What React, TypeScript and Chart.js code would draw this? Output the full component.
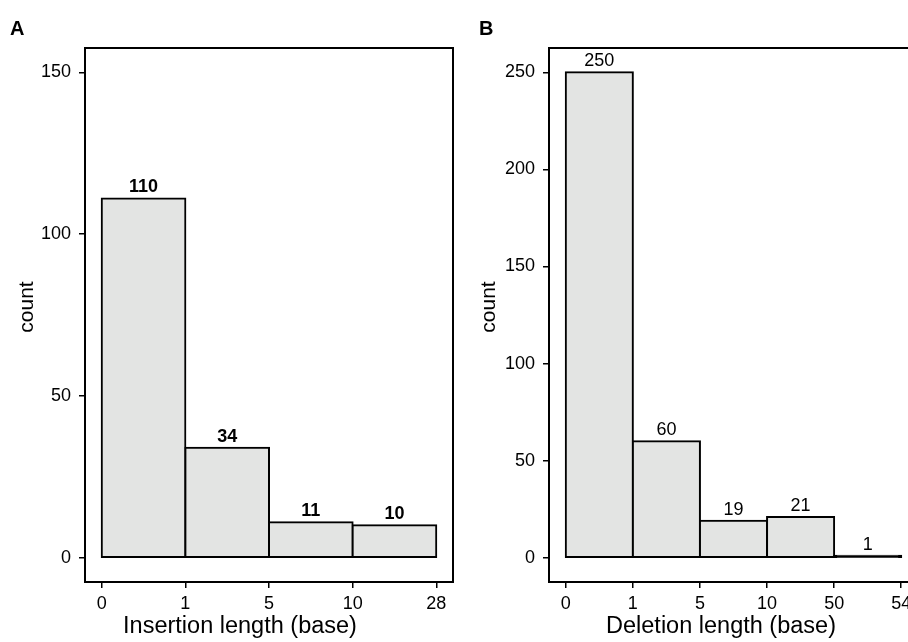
import { useEffect, useRef } from "react";
import { Chart, registerables } from "chart.js";

Chart.register(...registerables);

// ---------- data ----------
const insertionBins = ["0", "1", "5", "10", "28"];
const insertionCounts = [111, 34, 11, 10];
const insertionLabels = ["110", "34", "11", "10"];
const insertionYTicks = [0, 50, 100, 150];

const deletionBins = ["0", "1", "5", "10", "50", "54"];
const deletionCounts = [250, 60, 19, 21, 1];
const deletionLabels = ["250", "60", "19", "21", "1"];
const deletionYTicks = [0, 50, 100, 150, 200, 250];

const FONT = '"Liberation Sans", Arial, Helvetica, sans-serif';

type PanelProps = {
  bins: string[];
  counts: number[];
  labels: string[];
  yTicks: number[];
  yMax: number;
  xTitle: string;
  letter: string;
  labelBold: boolean;
  left: number;
  width: number;
  xTitleCenter: number; // relative to canvas
  yTitleCenterX: number;
  letterX: number;
};

function Panel(p: PanelProps) {
  const ref = useRef<HTMLCanvasElement | null>(null);
  useEffect(() => {
    if (!ref.current) return;
    const n = p.counts.length;
    const xPad = n * 0.05;
    const yPad = p.yMax * 0.05;

    const deco = {
      id: "deco",
      afterDraw(chart: any) {
        const { ctx, chartArea } = chart;
        const xs = chart.scales.x;
        const ys = chart.scales.y;
        ctx.save();
        // panel border
        ctx.strokeStyle = "#000";
        ctx.lineWidth = 2;
        ctx.strokeRect(
          chartArea.left,
          chartArea.top,
          chartArea.right - chartArea.left,
          chartArea.bottom - chartArea.top
        );
        // value labels
        ctx.fillStyle = "#000";
        ctx.textAlign = "center";
        ctx.textBaseline = "alphabetic";
        ctx.font = `${p.labelBold ? "bold " : ""}18px ${FONT}`;
        p.counts.forEach((c, i) => {
          const x = xs.getPixelForValue(i + 0.5);
          const y = ys.getPixelForValue(c);
          ctx.fillText(p.labels[i], x, y - 6);
        });
        // x title
        ctx.font = `23.5px ${FONT}`;
        ctx.textBaseline = "middle";
        ctx.fillText(p.xTitle, p.xTitleCenter, 627);
        // y title
        ctx.font = `21px ${FONT}`;
        ctx.save();
        ctx.translate(p.yTitleCenterX, (chartArea.top + chartArea.bottom) / 2 - 8);
        ctx.rotate(-Math.PI / 2);
        ctx.fillText("count", 0, 0);
        ctx.restore();
        // panel letter
        ctx.font = `bold 20px ${FONT}`;
        ctx.textAlign = "left";
        ctx.textBaseline = "alphabetic";
        ctx.fillText(p.letter, p.letterX, 35);
        ctx.restore();
      },
    };

    const tickFont = { family: FONT, size: 18 };
    const chart = new Chart(ref.current, {
      type: "bar",
      data: {
        datasets: [
          {
            data: p.counts.map((c, i) => ({ x: i + 0.5, y: c })),
            // very short bars are drawn as a solid black stroke, as the outline covers them
            backgroundColor: (ctx: any) => {
              const v = ctx.raw && typeof ctx.raw.y === "number" ? ctx.raw.y : 0;
              const ys = ctx.chart && ctx.chart.scales ? ctx.chart.scales.y : null;
              if (ys && typeof ys.getPixelForValue === "function") {
                const h = Math.abs(ys.getPixelForValue(0) - ys.getPixelForValue(v));
                if (h < 4) return "#000";
              } else if (v / p.yMax < 0.01) {
                return "#000";
              }
              return "#E3E4E3";
            },
            borderColor: "#000",
            borderWidth: 2,
            borderSkipped: false,
            inflateAmount: 1,
            barPercentage: 1,
            categoryPercentage: 1,
          } as any,
        ],
      },
      options: {
        animation: false,
        responsive: false,
        maintainAspectRatio: false,
        devicePixelRatio: 1,
        layout: { padding: { top: 48, right: 7, left: 0, bottom: 0 } },
        plugins: { legend: { display: false }, tooltip: { enabled: false } },
        scales: {
          x: {
            type: "linear",
            offset: false,
            min: -xPad,
            max: n + xPad,
            afterBuildTicks: (s: any) => {
              s.ticks = p.bins.map((_, i) => ({ value: i }));
            },
            afterFit: (s: any) => {
              s.height = 60;
            },
            ticks: {
              callback: (v: any) => p.bins[Math.round(Number(v))],
              font: tickFont,
              color: "#000",
              padding: 5,
              autoSkip: false,
              maxRotation: 0,
            },
            grid: {
              display: true,
              offset: false,
              drawOnChartArea: false,
              drawTicks: true,
              tickLength: 6,
              color: "#000",
              lineWidth: 1.5,
            },
            border: { display: false },
          },
          y: {
            type: "linear",
            min: -yPad,
            max: p.yMax + yPad,
            afterBuildTicks: (s: any) => {
              s.ticks = p.yTicks.map((v) => ({ value: v }));
            },
            afterFit: (s: any) => {
              s.width = 85;
            },
            ticks: {
              callback: (v: any) => String(v),
              font: tickFont,
              color: "#000",
              padding: 8,
              autoSkip: false,
            },
            grid: {
              display: true,
              drawOnChartArea: false,
              drawTicks: true,
              tickLength: 6,
              color: "#000",
              lineWidth: 1.5,
            },
            border: { display: false },
          },
        },
      } as any,
      plugins: [deco],
    });
    return () => chart.destroy();
  }, []);

  return (
    <canvas
      ref={ref}
      width={p.width}
      height={642}
      style={{ position: "absolute", left: p.left, top: 0, width: p.width, height: 642 }}
    />
  );
}

export default function App() {
  return (
    <div
      style={{
        position: "fixed",
        left: 0,
        top: 0,
        width: 908,
        height: 642,
        overflow: "hidden",
        background: "#fff",
      }}
    >
      <Panel
        bins={insertionBins}
        counts={insertionCounts}
        labels={insertionLabels}
        yTicks={insertionYTicks}
        yMax={150}
        xTitle="Insertion length (base)"
        letter="A"
        labelBold={true}
        left={0}
        width={460}
        xTitleCenter={240}
        yTitleCenterX={27}
        letterX={10}
      />
      <Panel
        bins={deletionBins}
        counts={deletionCounts}
        labels={deletionLabels}
        yTicks={deletionYTicks}
        yMax={250}
        xTitle="Deletion length (base)"
        letter="B"
        labelBold={false}
        left={464}
        width={461}
        xTitleCenter={721 - 464}
        yTitleCenterX={489 - 464}
        letterX={479 - 464}
      />
    </div>
  );
}
